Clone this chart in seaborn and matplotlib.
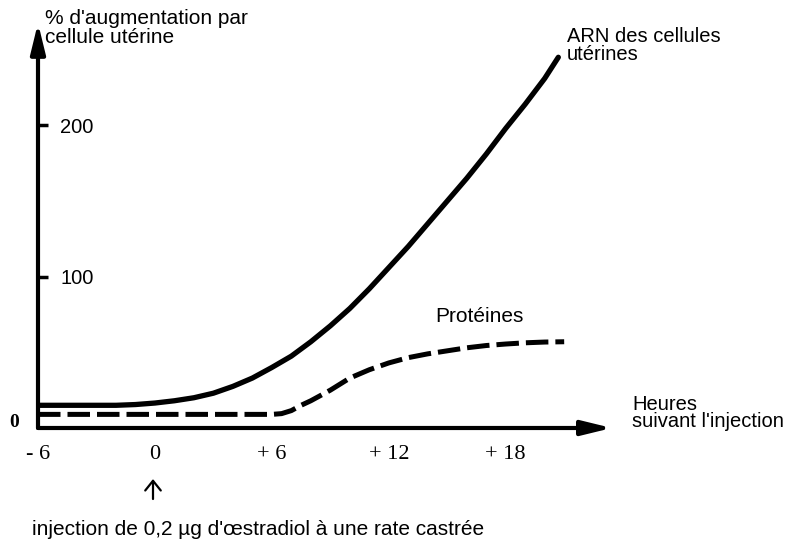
import matplotlib
matplotlib.use("Agg")
import matplotlib.pyplot as plt
import seaborn as sns

# values (hours after injection, % increase per cell)
hours_arn = [-6, -5, -4, -3, -2, -1, 0, 1, 2, 3, 4, 5, 6, 7, 8, 9, 10,
             11, 12, 13, 14, 15, 16, 17, 18, 19, 20, 20.7]
arn = [15, 15, 15, 15, 15, 15.5, 16.5, 18, 20, 23, 27.5, 33, 40, 47.5, 57, 67.5, 79,
       92, 106, 120, 135, 150, 165, 181, 198, 214, 231, 245]

hours_prot = [-6, -3, 0, 3, 6, 6.5, 7, 7.5, 8, 9, 10, 11, 12, 13, 14, 15, 16,
              17, 18, 19, 20, 21]
proteines = [9, 9, 9, 9, 9, 9.5, 11.5, 15, 18, 25, 33, 38.5, 43, 46.5, 49, 51, 53,
             54.5, 55.5, 56.3, 56.8, 57]

x_ticks = [-6, 0, 6, 12, 18]
x_tick_labels = ["- 6", "0", "+ 6", "+ 12", "+ 18"]
y_ticks = [100, 200]

sns.set_theme(style="white")
plt.rcParams["font.family"] = ["Liberation Sans", "DejaVu Sans"]
plt.rcParams["text.color"] = "black"
plt.rcParams["xtick.color"] = "black"
plt.rcParams["ytick.color"] = "black"

W, H = 791, 545
fig = plt.figure(figsize=(W / 100, H / 100), dpi=100)
ax = fig.add_axes([38 / W, 117 / H, 571 / W, 401 / H])

sns.lineplot(x=hours_arn, y=arn, ax=ax, color="black", lw=3.8,
             solid_capstyle="round")
sns.lineplot(x=hours_prot, y=proteines, ax=ax, color="black", lw=3.6,
             linestyle=(0, (4.5, 1.4)))

ax.set_xlim(-6, 23.3)
ax.set_ylim(0, 265)
for s in ax.spines.values():
    s.set_visible(False)

# axes drawn as arrows
arrow = dict(arrowstyle="-|>,head_length=0.9,head_width=0.22", lw=3,
             color="black", shrinkA=0, shrinkB=0, mutation_scale=20)
ax.annotate("", xy=(1.005, 0), xytext=(0, 0), xycoords="axes fraction",
            arrowprops=arrow, annotation_clip=False)
ax.annotate("", xy=(0, 1.01), xytext=(0, 0), xycoords="axes fraction",
            arrowprops=arrow, annotation_clip=False)

ax.set_xticks(x_ticks, x_tick_labels, fontfamily="Liberation Serif", fontsize=16)
ax.tick_params(axis="x", length=0, pad=12)
ax.set_yticks(y_ticks, [str(v) for v in y_ticks], fontsize=14.5)
ax.tick_params(axis="y", left=True, direction="in", length=7, width=2.5, pad=-16)
for lab in ax.get_yticklabels():
    lab.set_ha("left")
ax.annotate("0", xy=(0, 0), xycoords="axes fraction", xytext=(-17, 4),
            textcoords="offset points", ha="center", va="center",
            fontfamily="Liberation Serif", fontweight="bold", fontsize=14)

# small arrow marking the injection time
ax.annotate("", xy=(153 / W, 1 - 479 / H), xytext=(153 / W, 1 - 499 / H),
            xycoords="figure fraction", annotation_clip=False,
            arrowprops=dict(arrowstyle="->,head_length=0.5,head_width=0.4",
                            lw=1.6, color="black", shrinkA=0, shrinkB=0,
                            mutation_scale=14))

fig.text(45 / W, 1 - 9 / H, "% d'augmentation par\ncellule utérine",
         va="top", ha="left", fontsize=15, linespacing=1.0)
fig.text(567 / W, 1 - 27 / H, "ARN des cellules\nutérines",
         va="top", ha="left", fontsize=14.5, linespacing=0.95)
fig.text(479 / W, 1 - 317 / H, "Protéines", ha="center", va="center", fontsize=15)
fig.text(632 / W, 1 - 395 / H, "Heures\nsuivant l'injection",
         va="top", ha="left", fontsize=14.5, linespacing=0.85)
fig.text(32 / W, 10 / H, "injection de 0,2 µg d'œstradiol à une rate castrée",
         va="baseline", ha="left", fontsize=15)

fig.savefig("out.png", dpi=100)
